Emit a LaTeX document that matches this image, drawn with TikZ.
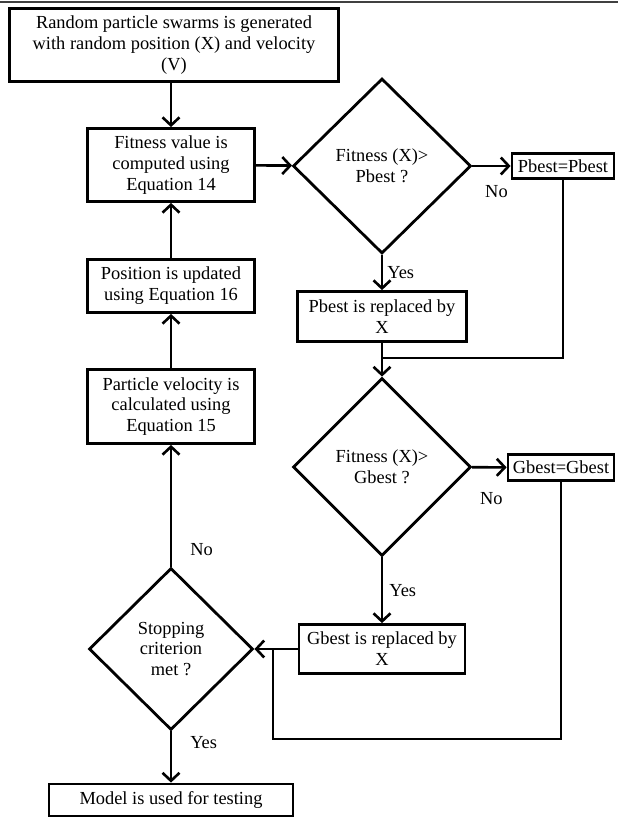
\documentclass[tikz,border=0pt]{standalone}
\usepackage{fontspec}
\setmainfont{Liberation Serif}
\usepackage{tikz}
\usetikzlibrary{arrows.meta, shapes.geometric}
\tikzset{
    process/.style = {rectangle, draw=black, line width=1.4pt, fill=white,
                      align=center, inner sep=0pt},
    decision/.style = {diamond, draw=black, line width=1.4pt, fill=white,
                       align=center, inner sep=0pt},
    arrow/.style = {-{Straight Barb[length=4pt, width=8.5pt]}, line width=1.3pt},
    link/.style = {line width=1.3pt},
    lbl/.style = {inner sep=2pt},
}

\begin{document}
\begin{tikzpicture}[x=0.5pt, y=-0.5pt, font=\fontsize{9.2}{10.4}\selectfont]
        \useasboundingbox (0,0) rectangle (618,818);
        \draw[line width=0.8pt, black!75] (0,2) -- (618,2);
        % left column
        \node[process, minimum width=164.5pt, minimum height=36.5pt] (init) at (174,45)
            {Random particle swarms is generated\\with random position (X) and velocity\\(V)};
        \node[process, minimum width=83.5pt, minimum height=36.5pt] (fit) at (171,165)
            {Fitness value is\\computed using\\Equation 14};
        \node[process, minimum width=83.5pt, minimum height=26.5pt] (pos) at (171,286)
            {Position is updated\\using Equation 16};
        \node[process, minimum width=83.5pt, minimum height=37pt] (vel) at (171,406.5)
            {Particle velocity is\\calculated using\\Equation 15};
        \node[decision, minimum width=82pt, minimum height=81pt] (stop) at (171,649)
            {Stopping\\criterion\\met ?};
        \node[process, minimum width=122pt, minimum height=16pt] (model) at (171,800)
            {Model is used for testing};
        % right column
        \node[decision, minimum width=89pt, minimum height=87.5pt] (pfit) at (382,166)
            {Fitness (X)>\\Pbest ?};
        \node[process, minimum width=51pt, minimum height=12.5pt] (pkeep) at (563,166)
            {Pbest=Pbest};
        \node[process, minimum width=84.5pt, minimum height=25pt] (pnew) at (382,316.5)
            {Pbest is replaced by\\X};
        \node[decision, minimum width=89pt, minimum height=89pt] (gfit) at (382,467)
            {Fitness (X)>\\Gbest ?};
        \node[process, minimum width=53pt, minimum height=13pt] (gkeep) at (561,467.5)
            {Gbest=Gbest};
        \node[process, minimum width=83pt, minimum height=24.5pt] (gnew) at (382,649)
            {Gbest is replaced by\\X};
        \coordinate (merge) at (382,358);
        \coordinate (loopturn) at (273,739);
        \coordinate (loopend) at (273,649);
        % connectors
        \draw[arrow] (init.south -| fit.north) -- (fit.north);
        \draw[arrow] (fit) -- (pfit);
        \draw[arrow] (pfit) -- node[lbl, below=7pt, pos=0.63] {No} (pkeep);
        \draw[arrow] (pfit) -- node[lbl, right, pos=0.5] {Yes} (pnew);
        \draw[link] (pkeep.south) |- (merge);
        \draw[arrow] (pnew) -- (gfit);
        \draw[arrow] (gfit) -- node[lbl, below=10pt, pos=0.56] {No} (gkeep);
        \draw[arrow] (gfit) -- node[lbl, right=1pt, pos=0.5] {Yes} (gnew);
        \draw[arrow] (gnew) -- (stop);
        \draw[link] (gkeep.south) |- (loopturn) -- (loopend);
        \draw[arrow] (stop) -- node[lbl, right=7pt, pos=0.14] {No} (vel);
        \draw[arrow] (vel) -- (pos);
        \draw[arrow] (pos) -- (fit);
        \draw[arrow] (stop) -- node[lbl, right=7pt, pos=0.22] {Yes} (model);
      \end{tikzpicture}
\end{document}
